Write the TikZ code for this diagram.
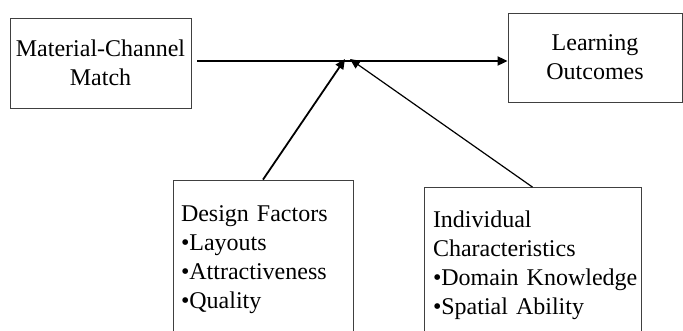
\documentclass[tikz,border=0pt]{standalone}
\usepackage{fontspec}
\setmainfont{Liberation Serif}
\usetikzlibrary{positioning,arrows.meta}

\begin{document}
\begin{tikzpicture}[x=1pt,y=-1pt,
    box/.style={draw=black!75, line width=0.8pt, inner sep=0pt, font=\fontsize{24}{29}\selectfont},
    link/.style={-{Triangle[length=10pt,width=9pt]}, line width=1.8pt}]
    \useasboundingbox (0,0) rectangle (683,330);
    \clip (0,0) rectangle (683,330);
    % Top row
    \node[box, align=center, minimum width=181pt, minimum height=90pt] (mcm) at (100.5,63) {Material-Channel\\Match};
    \node[box, align=center, minimum width=174pt, minimum height=89pt] (lo) at (595,57.5) {Learning\\Outcomes};
    \coordinate (join) at (347.5,61);
    % Bottom row
    \node[box, align=left, text width=164pt, minimum width=180pt, minimum height=160pt] (df) at (263,260) {\mbox{Design Factors}\\\mbox{•Layouts}\\\mbox{•Attractiveness}\\\mbox{•Quality}};
    \node[box, align=left, text width=199pt, minimum width=217pt, minimum height=155pt] (ic) at (532.5,265) {\mbox{Individual}\\\mbox{Characteristics}\\\mbox{•Domain Knowledge}\\\mbox{•Spatial Ability}};
    % Links
    \draw[link, shorten <=6pt] (mcm.east |- join) -- (lo.west |- join);
    \draw[link] (df.north) -- ([xshift=-2.5pt,yshift=2pt]join);
    \draw[link, line width=1.2pt] (ic.north) -- ([xshift=2.5pt,yshift=2pt]join);
\end{tikzpicture}
\end{document}
